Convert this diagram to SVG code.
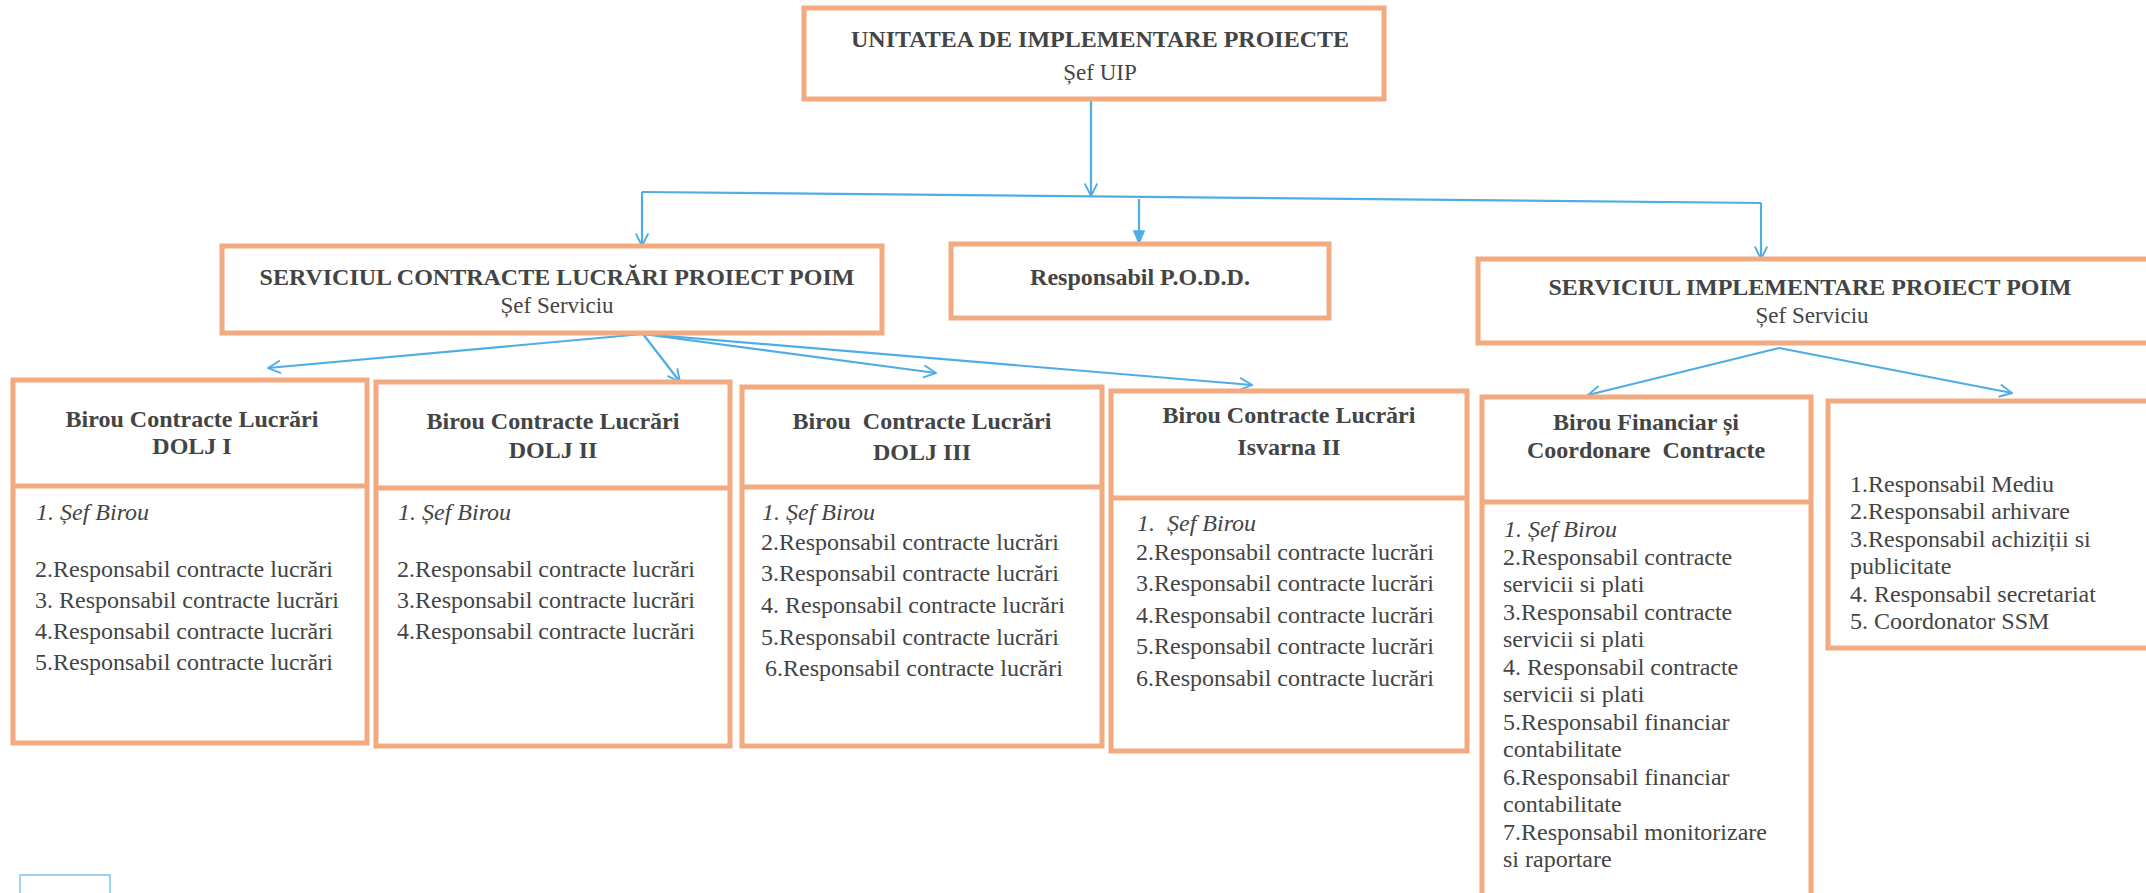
<svg xmlns="http://www.w3.org/2000/svg" width="2146" height="893" viewBox="0 0 2146 893">
<style>
.box{fill:#ffffff;stroke:#F2AA80;stroke-width:5}
.div{stroke:#F2AA80;stroke-width:5}
.con{fill:none;stroke:#4FADE6;stroke-width:2.2}
.t{font-family:"Liberation Serif","Times New Roman",serif;fill:#444444}
.hb{font-size:24px;font-weight:bold;text-anchor:middle}
.sub{font-size:23px;text-anchor:middle}
.tb{font-size:24px;font-weight:bold;text-anchor:middle}
.it{font-size:24px}
.i{font-style:italic}
</style>
<defs>
<marker id="open" viewBox="0 0 12 12" refX="11" refY="6" markerWidth="15" markerHeight="15" markerUnits="userSpaceOnUse" orient="auto">
<path d="M1,1 L11,6 L1,11" fill="none" stroke="#4FADE6" stroke-width="1.5"/>
</marker>
<marker id="fill" viewBox="0 0 12 12" refX="11" refY="6" markerWidth="15" markerHeight="15" markerUnits="userSpaceOnUse" orient="auto">
<path d="M0,1 L12,6 L0,11 Z" fill="#4FADE6"/>
</marker>
</defs>
<rect width="2146" height="893" fill="#ffffff"/>

<g id="connectors">
<path class="con" d="M1091,100 L1091,196" marker-end="url(#open)"/>
<path class="con" d="M642,192 L1761,203"/>
<path class="con" d="M642,192 L642,246" marker-end="url(#open)"/>
<path class="con" d="M1761,203 L1761,259" marker-end="url(#open)"/>
<path class="con" d="M1139,199 L1139,244" marker-end="url(#fill)"/>
<path class="con" d="M643,334 L268,368" marker-end="url(#open)"/>
<path class="con" d="M643,334 L680,382" marker-end="url(#open)"/>
<path class="con" d="M643,334 L936,373" marker-end="url(#open)"/>
<path class="con" d="M643,334 L1252,385" marker-end="url(#open)"/>
<path class="con" d="M1779,348 L1588,395" marker-end="url(#open)"/>
<path class="con" d="M1779,348 L2012,393" marker-end="url(#open)"/>
</g>

<g id="uip">
<rect class="box" x="804" y="8" width="580" height="91"/>
<text class="t hb" x="1100" y="47">UNITATEA DE IMPLEMENTARE PROIECTE</text>
<text class="t sub" x="1100" y="80">Șef UIP</text>
</g>

<g id="serv-contracte">
<rect class="box" x="222" y="246" width="660" height="87"/>
<text class="t hb" x="557" y="285">SERVICIUL CONTRACTE LUCRĂRI PROIECT POIM</text>
<text class="t sub" x="557" y="313">Șef Serviciu</text>
</g>

<g id="podd">
<rect class="box" x="951" y="244" width="378" height="74"/>
<text class="t hb" x="1140" y="285">Responsabil P.O.D.D.</text>
</g>

<g id="serv-implementare">
<rect class="box" x="1478" y="259" width="680" height="84"/>
<text class="t hb" x="1810" y="295">SERVICIUL IMPLEMENTARE PROIECT POIM</text>
<text class="t sub" x="1812" y="323">Șef Serviciu</text>
</g>

<g id="dolj1">
<rect class="box" x="13" y="380" width="354" height="363"/>
<line class="div" x1="13" y1="486" x2="367" y2="486"/>
<text class="t tb" x="192" y="427">Birou Contracte Lucrări</text>
<text class="t tb" x="192" y="454">DOLJ I</text>
<text class="t it i" x="36" y="520">1. Șef Birou</text>
<text class="t it" x="35" y="577">2.Responsabil contracte lucrări</text>
<text class="t it" x="35" y="608">3. Responsabil contracte lucrări</text>
<text class="t it" x="35" y="639">4.Responsabil contracte lucrări</text>
<text class="t it" x="35" y="670">5.Responsabil contracte lucrări</text>
</g>

<g id="dolj2">
<rect class="box" x="376" y="382" width="354" height="364"/>
<line class="div" x1="376" y1="488" x2="730" y2="488"/>
<text class="t tb" x="553" y="429">Birou Contracte Lucrări</text>
<text class="t tb" x="553" y="458">DOLJ II</text>
<text class="t it i" x="398" y="520">1. Șef Birou</text>
<text class="t it" x="397" y="577">2.Responsabil contracte lucrări</text>
<text class="t it" x="397" y="608">3.Responsabil contracte lucrări</text>
<text class="t it" x="397" y="639">4.Responsabil contracte lucrări</text>
</g>

<g id="dolj3">
<rect class="box" x="742" y="387" width="360" height="359"/>
<line class="div" x1="742" y1="487" x2="1102" y2="487"/>
<text class="t tb" x="922" y="429" xml:space="preserve">Birou  Contracte Lucrări</text>
<text class="t tb" x="922" y="460">DOLJ III</text>
<text class="t it i" x="762" y="520">1. Șef Birou</text>
<text class="t it" x="761" y="550">2.Responsabil contracte lucrări</text>
<text class="t it" x="761" y="581">3.Responsabil contracte lucrări</text>
<text class="t it" x="761" y="613">4. Responsabil contracte lucrări</text>
<text class="t it" x="761" y="645">5.Responsabil contracte lucrări</text>
<text class="t it" x="765" y="676">6.Responsabil contracte lucrări</text>
</g>

<g id="isvarna2">
<rect class="box" x="1111" y="391" width="356" height="360"/>
<line class="div" x1="1111" y1="498" x2="1467" y2="498"/>
<text class="t tb" x="1289" y="423">Birou Contracte Lucrări</text>
<text class="t tb" x="1289" y="455">Isvarna II</text>
<text class="t it i" x="1137" y="531" xml:space="preserve">1.  Șef Birou</text>
<text class="t it" x="1136" y="560">2.Responsabil contracte lucrări</text>
<text class="t it" x="1136" y="591">3.Responsabil contracte lucrări</text>
<text class="t it" x="1136" y="623">4.Responsabil contracte lucrări</text>
<text class="t it" x="1136" y="654">5.Responsabil contracte lucrări</text>
<text class="t it" x="1136" y="686">6.Responsabil contracte lucrări</text>
</g>

<g id="financiar">
<rect class="box" x="1482" y="397" width="329" height="500"/>
<line class="div" x1="1482" y1="502" x2="1811" y2="502"/>
<text class="t tb" x="1646" y="430">Birou Financiar și</text>
<text class="t tb" x="1646" y="458" xml:space="preserve">Coordonare  Contracte</text>
<text class="t it i" x="1504" y="537">1. Șef Birou</text>
<text class="t it" x="1503" y="565">2.Responsabil contracte</text>
<text class="t it" x="1503" y="592">servicii si plati</text>
<text class="t it" x="1503" y="620">3.Responsabil contracte</text>
<text class="t it" x="1503" y="647">servicii si plati</text>
<text class="t it" x="1503" y="675">4. Responsabil contracte</text>
<text class="t it" x="1503" y="702">servicii si plati</text>
<text class="t it" x="1503" y="730">5.Responsabil financiar</text>
<text class="t it" x="1503" y="757">contabilitate</text>
<text class="t it" x="1503" y="785">6.Responsabil financiar</text>
<text class="t it" x="1503" y="812">contabilitate</text>
<text class="t it" x="1503" y="840">7.Responsabil monitorizare</text>
<text class="t it" x="1503" y="867">si raportare</text>
</g>

<g id="implementare-resp">
<rect class="box" x="1828" y="401" width="330" height="247"/>
<text class="t it" x="1850" y="492">1.Responsabil Mediu</text>
<text class="t it" x="1850" y="519">2.Responsabil arhivare</text>
<text class="t it" x="1850" y="547">3.Responsabil achiziții si</text>
<text class="t it" x="1850" y="574">publicitate</text>
<text class="t it" x="1850" y="602">4. Responsabil secretariat</text>
<text class="t it" x="1850" y="629">5. Coordonator SSM</text>
</g>

<g id="icon">
<rect x="20" y="875" width="90" height="22" fill="none" stroke="#7FC3EE" stroke-width="1.5"/>
</g>
</svg>
